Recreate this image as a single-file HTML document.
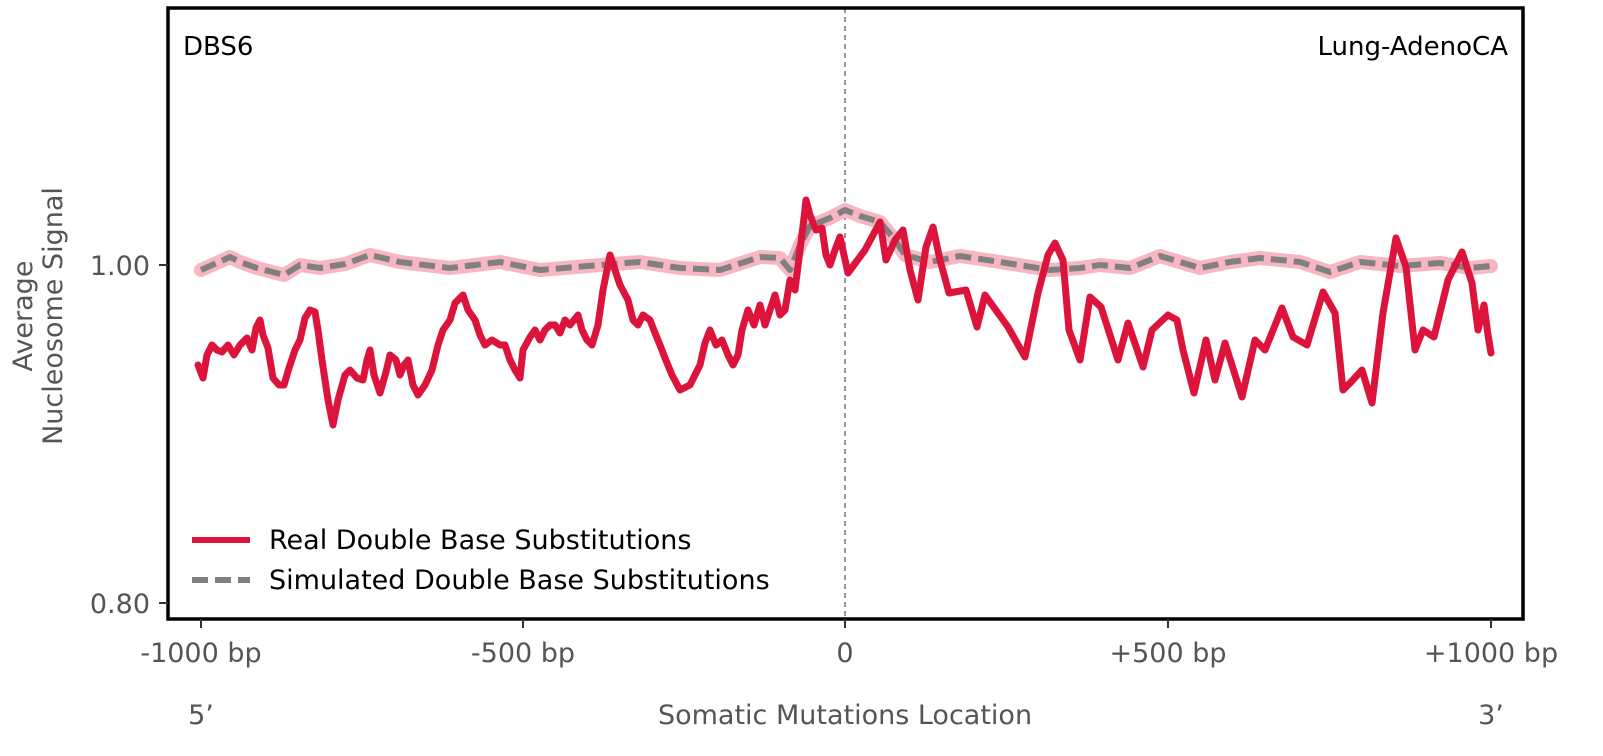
<!DOCTYPE html>
<html><head><meta charset="utf-8"><style>body{margin:0;background:#fff}svg{display:block}text{font-family:"DejaVu Sans","Liberation Sans",sans-serif}</style></head><body>
<svg width="1603" height="756" viewBox="0 0 1603 756" xmlns="http://www.w3.org/2000/svg">
<line x1="845" y1="8" x2="845" y2="619" stroke="#777" stroke-width="1.5" stroke-dasharray="5,4"/>
<g fill="none" stroke-linejoin="round" stroke-linecap="round">
<polyline stroke="#f7b6c2" stroke-width="14" points="201,270 230,257 240,262 257,268 284,275 300,265 320,268 345,264 370,255 400,262 450,268 500,262 540,270 600,265 640,262 680,268 720,270 760,257 780,258 790,270 800,245 810,226 830,218 845,210 860,216 880,222 895,240 905,255 930,262 960,256 1000,262 1050,270 1080,268 1100,265 1130,268 1160,256 1200,268 1230,262 1260,258 1300,262 1330,272 1360,262 1400,266 1440,263 1470,268 1491,266"/>
<polyline stroke="#808080" stroke-width="6" stroke-linecap="butt" stroke-dasharray="16,7" points="201,270 230,257 240,262 257,268 284,275 300,265 320,268 345,264 370,255 400,262 450,268 500,262 540,270 600,265 640,262 680,268 720,270 760,257 780,258 790,270 800,245 810,226 830,218 845,210 860,216 880,222 895,240 905,255 930,262 960,256 1000,262 1050,270 1080,268 1100,265 1130,268 1160,256 1200,268 1230,262 1260,258 1300,262 1330,272 1360,262 1400,266 1440,263 1470,268 1491,266"/>
<polyline stroke="#dc143c" stroke-width="7" points="198,365 203,378 207,355 212,345 217,350 222,352 228,345 234,355 240,345 247,338 252,350 256,328 260,320 263,335 268,348 273,378 279,385 284,385 289,368 295,350 300,340 305,318 310,310 315,312 318,330 322,360 328,400 333,425 338,400 345,375 350,370 357,378 363,380 367,360 370,350 374,375 380,393 386,372 390,355 396,360 400,375 404,365 408,360 413,385 418,395 425,385 432,370 438,345 443,330 450,320 455,303 463,295 468,310 475,320 480,335 485,345 492,340 500,345 505,345 510,360 515,370 520,378 523,350 530,337 535,330 540,340 545,330 550,325 555,325 560,333 565,320 570,325 578,315 582,330 587,340 592,345 598,325 603,290 610,255 615,270 620,285 628,300 633,320 638,325 643,315 650,320 655,333 660,345 665,358 672,375 680,390 690,385 695,375 700,365 705,343 710,330 716,345 722,340 728,355 733,365 738,355 742,330 748,310 754,325 760,305 765,325 770,310 775,295 780,315 785,310 790,280 795,290 800,250 804,218 806,200 810,215 816,230 822,228 826,255 830,265 835,250 840,237 848,273 865,250 880,222 886,260 895,240 903,230 910,270 918,300 926,247 933,227 940,260 949,293 966,290 977,327 985,295 1008,327 1025,357 1038,293 1048,255 1055,243 1063,260 1069,330 1080,360 1090,297 1101,307 1118,360 1128,323 1143,367 1152,330 1168,315 1177,320 1183,350 1194,393 1206,340 1215,380 1225,343 1242,397 1255,340 1265,350 1282,308 1293,337 1307,345 1323,292 1335,313 1343,390 1351,382 1362,370 1372,403 1383,313 1396,238 1406,267 1415,350 1423,330 1434,337 1448,280 1462,252 1472,283 1478,330 1484,305 1488,335 1491,353"/>
</g>
<rect x="168" y="8" width="1355" height="611" fill="none" stroke="#000" stroke-width="3.5"/>
<g stroke="#333" stroke-width="2">
<line x1="159" y1="265" x2="168" y2="265"/><line x1="159" y1="603" x2="168" y2="603"/>
<line x1="201" y1="619" x2="201" y2="628"/><line x1="523" y1="619" x2="523" y2="628"/><line x1="845" y1="619" x2="845" y2="628"/><line x1="1168" y1="619" x2="1168" y2="628"/><line x1="1491" y1="619" x2="1491" y2="628"/>
</g>
<g fill="#555" font-size="27">
<text x="150" y="275" text-anchor="end">1.00</text>
<text x="150" y="613" text-anchor="end">0.80</text>
<text x="201" y="662" text-anchor="middle">-1000 bp</text>
<text x="523" y="662" text-anchor="middle">-500 bp</text>
<text x="845" y="662" text-anchor="middle">0</text>
<text x="1168" y="662" text-anchor="middle">+500 bp</text>
<text x="1491" y="662" text-anchor="middle">+1000 bp</text>
<text x="201" y="724" text-anchor="middle">5’</text>
<text x="845" y="724" text-anchor="middle">Somatic Mutations Location</text>
<text x="1491" y="724" text-anchor="middle">3’</text>
<text transform="translate(32,316) rotate(-90)" text-anchor="middle">Average</text>
<text transform="translate(62,316) rotate(-90)" text-anchor="middle">Nucleosome Signal</text>
</g>
<text x="183" y="55" font-size="26" fill="#000">DBS6</text>
<text x="1508" y="55" font-size="26" fill="#000" text-anchor="end">Lung-AdenoCA</text>
<line x1="192" y1="540" x2="250" y2="540" stroke="#dc143c" stroke-width="6"/>
<line x1="192" y1="580" x2="250" y2="580" stroke="#808080" stroke-width="6" stroke-dasharray="16,7"/>
<text x="269" y="549" font-size="27" fill="#000">Real Double Base Substitutions</text>
<text x="269" y="589" font-size="27" fill="#000">Simulated Double Base Substitutions</text>
</svg>
</body></html>
